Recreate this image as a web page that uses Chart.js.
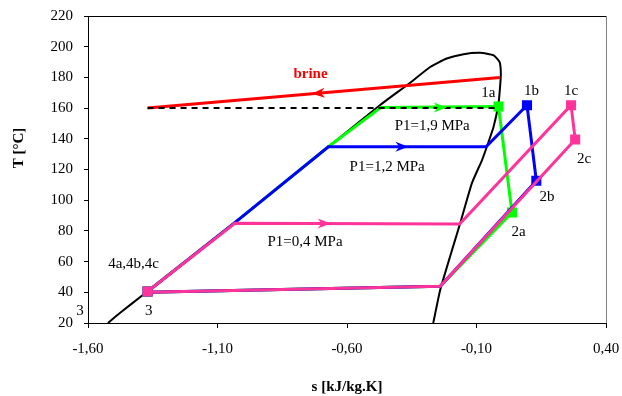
<!DOCTYPE html>
<html>
<head>
<meta charset="utf-8">
<script src="https://cdn.jsdelivr.net/npm/chart.js@4.4.1/dist/chart.umd.min.js"></script>
<style>
  html, body { margin: 0; padding: 0; background: #ffffff; }
  #wrap { width: 622px; height: 396px; }
</style>
</head>
<body>
<div id="wrap"><canvas id="grafico_ts"></canvas></div>
<script>
// curva de saturacion (s, T)
const domoS = [-1.523, -1.477, -1.387, -1.37, -1.033, -0.672, -0.473, -0.357, -0.279, -0.215, -0.150, -0.086, -0.034, -0.011, -0.006, -0.009, -0.015, -0.034, -0.060, -0.079, -0.118, -0.163, -0.202, -0.240, -0.267];
const domoT = [20, 26.5, 38.4, 40.5, 85.4, 134.8, 161.9, 176.4, 186.8, 192.3, 195.1, 196, 194.4, 190.1, 182.6, 173.8, 163, 147.8, 134.8, 126, 111, 85, 63.3, 41.6, 20];

// salmuera
const salmueraS = [-1.37, -0.01];
const salmueraT = [160, 180];
const punteadaS = [-1.37, -0.015];
const punteadaT = [160, 160];

// ciclo P1=1,9 MPa (4a -> 1a -> 2a -> 3)
const cicloAS = [-1.37, -1.033, -0.672, -0.47, -0.015, 0.037, -0.24, -1.37];
const cicloAT = [40.5, 85.4, 134.8, 160.4, 161, 92, 44, 40];
// ciclo P1=1,2 MPa (4b -> 1b -> 2b -> 3)
const cicloBS = [-1.37, -1.033, -0.672, -0.063, 0.095, 0.131, -0.24, -1.37];
const cicloBT = [40.5, 85.4, 134.8, 134.8, 161.9, 112.7, 44, 40];
// ciclo P1=0,4 MPa (4c -> 1c -> 2c -> 3)
const cicloCS = [-1.37, -1.033, -0.165, 0.265, 0.281, -0.24, -1.37];
const cicloCT = [40.5, 85, 84.5, 161.9, 139.6, 44, 40];

// puntos marcados con cuadrado (indices dentro de cada ciclo)
const marcasA = [0, 4, 5];
const marcasB = [0, 4, 5];
const marcasC = [0, 3, 4];

// flechas: punta y punto hacia donde apuntan
const flechaS = [-0.736, -0.215, -0.363, -0.663];
const flechaT = [169.3, 160.4, 134.8, 84.8];
const flechaHaciaS = [-1.37, -0.015, -0.063, -0.165];
const flechaHaciaT = [160, 160.4, 134.8, 84.5];
const flechaColor = ['#ff0000', '#00ff00', '#0000ff', '#ff3399'];

// etiquetas de texto
const etiquetas = ['brine', '1a', '1b', '1c', '2c', '2b', '2a', 'P1=1,9 MPa', 'P1=1,2 MPa', 'P1=0,4 MPa', '4a,4b,4c', '3', '3'];
const etiquetaS = [-0.741, -0.054, 0.112, 0.265, 0.315, 0.172, 0.062, -0.271, -0.445, -0.762, -1.424, -1.365, -1.631];
const etiquetaT = [182.1, 170.1, 171, 171, 126.8, 101.8, 79, 148.4, 121.3, 73, 58.6, 28, 28];

const xTicks = [-1.60, -1.10, -0.60, -0.10, 0.40];
const yMin = 20, yMax = 220, yPaso = 20;

const fuente = "'Liberation Serif', 'Times New Roman', serif";

function puntos(s, t) {
    return s.map((v, i) => ({ x: v, y: t[i] }));
}
function radios(n, marcas, r) {
    const out = [];
    for (let i = 0; i < n; i++) out.push(marcas.includes(i) ? r : 0);
    return out;
}

const anotaciones = {
    id: 'anotaciones',
    afterDatasetsDraw(chart) {
        const ctx = chart.ctx;
        const xs = chart.scales.x, ys = chart.scales.y;
        // flechas
        for (let i = 0; i < flechaS.length; i++) {
            const px = xs.getPixelForValue(flechaS[i]);
            const py = ys.getPixelForValue(flechaT[i]);
            const qx = xs.getPixelForValue(flechaHaciaS[i]);
            const qy = ys.getPixelForValue(flechaHaciaT[i]);
            const ang = Math.atan2(qy - py, qx - px);
            ctx.save();
            ctx.translate(px, py);
            ctx.rotate(ang);
            ctx.fillStyle = flechaColor[i];
            ctx.beginPath();
            ctx.moveTo(0, 0);
            ctx.lineTo(-13, -5);
            ctx.lineTo(-9, 0);
            ctx.lineTo(-13, 5);
            ctx.closePath();
            ctx.fill();
            ctx.restore();
        }
    },
    afterDraw(chart) {
        const ctx = chart.ctx;
        const xs = chart.scales.x, ys = chart.scales.y;
        const a = chart.chartArea;
        ctx.save();
        // marco superior y derecho
        ctx.lineWidth = 1;
        ctx.strokeStyle = '#000000';
        ctx.beginPath();
        ctx.moveTo(a.left, a.top + 0.5);
        ctx.lineTo(a.right, a.top + 0.5);
        ctx.stroke();
        ctx.strokeStyle = '#808080';
        ctx.beginPath();
        ctx.moveTo(a.right + 0.5, a.top);
        ctx.lineTo(a.right + 0.5, a.bottom);
        ctx.stroke();

        ctx.textAlign = 'center';
        ctx.textBaseline = 'middle';
        for (let i = 0; i < etiquetas.length; i++) {
            if (etiquetas[i] === 'brine') {
                ctx.font = 'bold 15px ' + fuente;
                ctx.fillStyle = '#ff0000';
            } else {
                ctx.font = '15px ' + fuente;
                ctx.fillStyle = '#000000';
            }
            ctx.fillText(etiquetas[i], xs.getPixelForValue(etiquetaS[i]), ys.getPixelForValue(etiquetaT[i]));
        }

        // titulo eje Y
        ctx.font = 'bold 15px ' + fuente;
        ctx.fillStyle = '#000000';
        ctx.translate(19, 148);
        ctx.rotate(-Math.PI / 2);
        ctx.fillText('T [°C]', 0, 0);
        ctx.restore();
    }
};

document.addEventListener('DOMContentLoaded', function () {
    const grafico = document.getElementById('grafico_ts').getContext('2d');
    const myChart = new Chart(grafico, {
        type: 'scatter',
        data: {
            datasets: [{
                label: 'P1=0,4 MPa',
                data: puntos(cicloCS, cicloCT),
                borderColor: '#ff3399',
                backgroundColor: '#ff3399',
                borderWidth: 3,
                pointStyle: 'rect',
                pointRadius: radios(cicloCS.length, marcasC, 5),
                showLine: true
            }, {
                label: 'P1=1,2 MPa',
                data: puntos(cicloBS, cicloBT),
                borderColor: '#0000ff',
                backgroundColor: '#0000ff',
                borderWidth: 3,
                pointStyle: 'rect',
                pointRadius: radios(cicloBS.length, marcasB, 5),
                showLine: true
            }, {
                label: 'punteada',
                data: puntos(punteadaS, punteadaT),
                borderColor: '#000000',
                borderWidth: 2,
                borderDash: [6, 5],
                pointRadius: 0,
                showLine: true
            }, {
                label: 'P1=1,9 MPa',
                data: puntos(cicloAS, cicloAT),
                borderColor: '#00ff00',
                backgroundColor: '#00ff00',
                borderWidth: 3,
                pointStyle: 'rect',
                pointRadius: radios(cicloAS.length, marcasA, 5),
                showLine: true
            }, {
                label: 'brine',
                data: puntos(salmueraS, salmueraT),
                borderColor: '#ff0000',
                borderWidth: 3,
                pointRadius: 0,
                showLine: true
            }, {
                label: 'saturacion',
                data: puntos(domoS, domoT),
                borderColor: '#000000',
                borderWidth: 2,
                pointRadius: 0,
                tension: 0.15,
                showLine: true
            }]
        },
        options: {
            responsive: true,
            maintainAspectRatio: false,
            animation: false,
            layout: { padding: { top: 16, right: 16, left: 0, bottom: 0 } },
            scales: {
                x: {
                    type: 'linear',
                    min: -1.6,
                    max: 0.4,
                    afterBuildTicks: function (scale) {
                        scale.ticks = xTicks.map(v => ({ value: v }));
                    },
                    afterFit: function (scale) {
                        scale.height = 73;
                        scale.paddingLeft = 0;
                        scale.paddingRight = 0;
                    },
                    grid: { drawOnChartArea: false, drawTicks: true, tickLength: 5, color: '#000000' },
                    border: { display: true, color: '#000000', width: 1 },
                    ticks: {
                        color: '#000000',
                        padding: 12,
                        maxRotation: 0,
                        font: { family: fuente, size: 15 },
                        callback: function (v) { return v.toFixed(2).replace('.', ','); }
                    },
                    title: {
                        display: true,
                        text: 's [kJ/kg.K]',
                        color: '#000000',
                        font: { family: fuente, size: 15, weight: 'bold' },
                        padding: 0
                    }
                },
                y: {
                    min: yMin,
                    max: yMax,
                    afterFit: function (scale) {
                        scale.width = 88;
                        scale.paddingTop = 0;
                        scale.paddingBottom = 0;
                    },
                    grid: { drawOnChartArea: false, drawTicks: true, tickLength: 4, color: '#000000' },
                    border: { display: true, color: '#000000', width: 1 },
                    ticks: {
                        stepSize: yPaso,
                        color: '#000000',
                        padding: 11,
                        font: { family: fuente, size: 15 }
                    }
                }
            },
            plugins: {
                legend: { display: false },
                tooltip: { enabled: false }
            }
        },
        plugins: [anotaciones]
    });
});
</script>
</body>
</html>
